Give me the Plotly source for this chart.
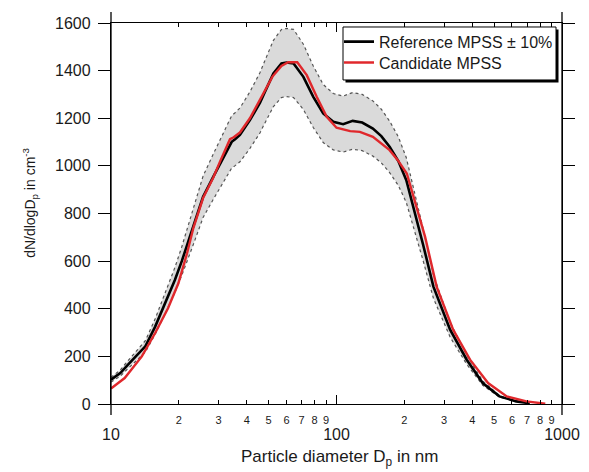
import plotly.graph_objects as go

# ---------------- data ----------------
ref_d = [10, 11, 11.9, 13, 14.2, 15.7, 17.3, 19.2, 20.6, 23.2, 25.6, 28.4, 31.5, 33, 34.3,
         35.5, 37.3, 41.3, 45.8, 47.3, 52.5, 57, 60, 64.5, 71.3, 78.9, 87.3, 96.8, 107,
         118, 130, 145, 158, 172, 188, 204, 227, 242, 269, 319, 378, 445, 528, 627, 720]
ref_n = [102, 130, 165, 205, 242, 325, 416, 521, 600, 745, 870, 954, 1038, 1075, 1101,
         1112, 1130, 1192, 1265, 1295, 1388, 1430, 1434, 1430, 1374, 1290, 1220, 1185, 1175,
         1189, 1182, 1157, 1125, 1080, 1020, 940, 773, 670, 493, 312, 186, 88, 32, 11, 3]
ref_upper = [112, 143, 182, 226, 266, 358, 458, 573, 660, 820, 957, 1049, 1142, 1183, 1211,
             1223, 1243, 1311, 1392, 1425, 1527, 1573, 1577, 1573, 1511, 1419, 1342, 1304, 1293,
             1308, 1300, 1273, 1238, 1188, 1122, 1034, 850, 737, 542, 343, 205, 97, 35, 12, 3]
ref_lower = [92, 117, 149, 185, 218, 293, 374, 469, 540, 671, 783, 859, 934, 968, 991,
             1001, 1017, 1073, 1139, 1166, 1249, 1287, 1291, 1287, 1237, 1161, 1098, 1067, 1058,
             1070, 1064, 1041, 1013, 972, 918, 846, 696, 603, 444, 281, 167, 79, 29, 10, 3]

cand_d = [10, 11.5, 13.7, 15.7, 17.9, 19.9, 21.7, 23.2, 25.6, 28.4, 30.5, 32.5, 33.7, 35,
          37.3, 41.3, 45.8, 52, 57, 61, 67, 73.8, 81.7, 90.5, 100, 115, 127, 145, 172, 187,
          205, 230, 247, 278, 329, 391, 470, 569, 696, 843]
cand_n = [65, 109, 200, 298, 402, 507, 630, 740, 865, 950, 1020, 1075, 1112, 1120,
          1140, 1200, 1276, 1375, 1420, 1435, 1435, 1381, 1290, 1206, 1160, 1146, 1143, 1122, 1066, 1024,
          968, 810, 703, 493, 312, 186, 88, 32, 11, 1]

major_ticks = [10, 100, 1000]
major_text = ["10", "100", "1000"]
minor_ticks = [20, 30, 40, 50, 60, 70, 80, 90, 200, 300, 400, 500, 600, 700, 800, 900]
minor_text = ["2", "3", "4", "5", "6", "7", "8", "9", "2", "3", "4", "5", "6", "7", "8", "9"]
y_ticks = [0, 200, 400, 600, 800, 1000, 1200, 1400, 1600]

x_title = "Particle diameter D<sub>p</sub> in nm"
y_title = "dN/dlogD<sub>p</sub> in cm<sup>-3</sup>"

FONT = "Liberation Sans, Arial, sans-serif"
TXT = "#1a1a1a"
RED = "#e0282c"

fig = go.Figure()
fig.add_trace(go.Scatter(x=ref_d, y=ref_lower, mode="lines",
                         line=dict(color="#555555", width=1.2, dash="dot"),
                         showlegend=False, hoverinfo="skip"))
fig.add_trace(go.Scatter(x=ref_d, y=ref_upper, mode="lines", fill="tonexty",
                         fillcolor="#dadada",
                         line=dict(color="#555555", width=1.2, dash="dot"),
                         showlegend=False, hoverinfo="skip"))
fig.add_trace(go.Scatter(x=ref_d, y=ref_n, mode="lines", name="Reference MPSS ± 10%",
                         line=dict(color="black", width=2.6), legend="legend"))
fig.add_trace(go.Scatter(x=cand_d, y=cand_n, mode="lines", name="Candidate MPSS",
                         line=dict(color=RED, width=2.4), legend="legend2"))
# helper trace so the overlaying digit axis is drawn
fig.add_trace(go.Scatter(x=[10, 1000], y=[None, None], xaxis="x2", mode="lines",
                         showlegend=False, hoverinfo="skip"))

# page offset (body margin) compensation: plot area sits at page x 111..562, y 23..404.3
PL, PT, PW, PH = 111.0, 23.0, 451.0, 381.3
def px(x):
    return (x - PL) / PW
def py(y):
    return (PT + PH - y) / PH

dx, dy = 2.5 / PW, 2.5 / PH
BX0, BX1, BY0, BY1 = 343, 556, 27, 80
shapes = [
    dict(type="rect", xref="paper", yref="paper", x0=px(BX0) + dx, x1=px(BX1) + dx,
         y0=py(BY1) - dy, y1=py(BY0) - dy, fillcolor="black", line=dict(width=0), layer="above"),
    dict(type="rect", xref="paper", yref="paper", x0=px(BX0), x1=px(BX1), y0=py(BY1), y1=py(BY0),
         fillcolor="white", line=dict(color="black", width=1), layer="above"),
    dict(type="line", xref="paper", yref="paper", x0=0, x1=0, y0=-11 / PH, y1=1 + 11 / PH,
         line=dict(color="black", width=1.3), layer="above"),
    dict(type="line", xref="paper", yref="paper", x0=1, x1=1, y0=-11 / PH, y1=1 + 11 / PH,
         line=dict(color="black", width=1.3), layer="above"),
]

annotations = [
    dict(text=x_title, xref="paper", yref="paper", x=px(339), y=py(458), xanchor="center",
         yanchor="middle", showarrow=False, font=dict(size=17, color=TXT)),
    dict(text=y_title, xref="paper", yref="paper", x=px(30), y=py(203), xanchor="center",
         yanchor="middle", showarrow=False, textangle=-90, font=dict(size=14, color=TXT)),
]

leg_common = dict(xanchor="left", yanchor="middle", bgcolor="rgba(0,0,0,0)", borderwidth=0,
                  font=dict(size=16, color=TXT))

fig.update_layout(
    width=581, height=464,
    margin=dict(l=103, r=27, t=15, b=68),
    paper_bgcolor="white", plot_bgcolor="white",
    font=dict(family=FONT, color=TXT, size=15),
    showlegend=True,
    legend=dict(x=px(339), y=py(41.7), **leg_common),
    legend2=dict(x=px(339), y=py(62.7), **leg_common),
    shapes=shapes,
    annotations=annotations,
    xaxis=dict(type="log", range=[1, 3], tickmode="array", tickvals=major_ticks, ticktext=major_text,
               ticks="inside", ticklen=9, tickwidth=1, tickcolor="black",
               minor=dict(tickmode="array", tickvals=minor_ticks, ticks="inside", ticklen=4,
                          tickwidth=1, tickcolor="black", showgrid=False),
               mirror="ticks", showline=True, linecolor="black", linewidth=1.3,
               showgrid=False, zeroline=False, tickfont=dict(size=16, color=TXT),
               ticklabelstandoff=16, automargin=False),
    xaxis2=dict(type="log", range=[1, 3], overlaying="x", anchor="y", side="bottom",
                tickmode="array", tickvals=minor_ticks, ticktext=minor_text, ticks="",
                showline=False, showgrid=False, zeroline=False, automargin=False,
                tickfont=dict(size=11, color=TXT), ticklabelstandoff=8),
    yaxis=dict(range=[0, 1600], tickmode="array", tickvals=y_ticks,
               ticks="outside", ticklen=12, tickwidth=1, tickcolor="black",
               mirror="ticks", showline=True, linecolor="black", linewidth=1.3,
               showgrid=False, zeroline=False, tickfont=dict(size=16, color=TXT),
               ticklabelstandoff=4, automargin=False),
)

fig.write_html("out.html")
